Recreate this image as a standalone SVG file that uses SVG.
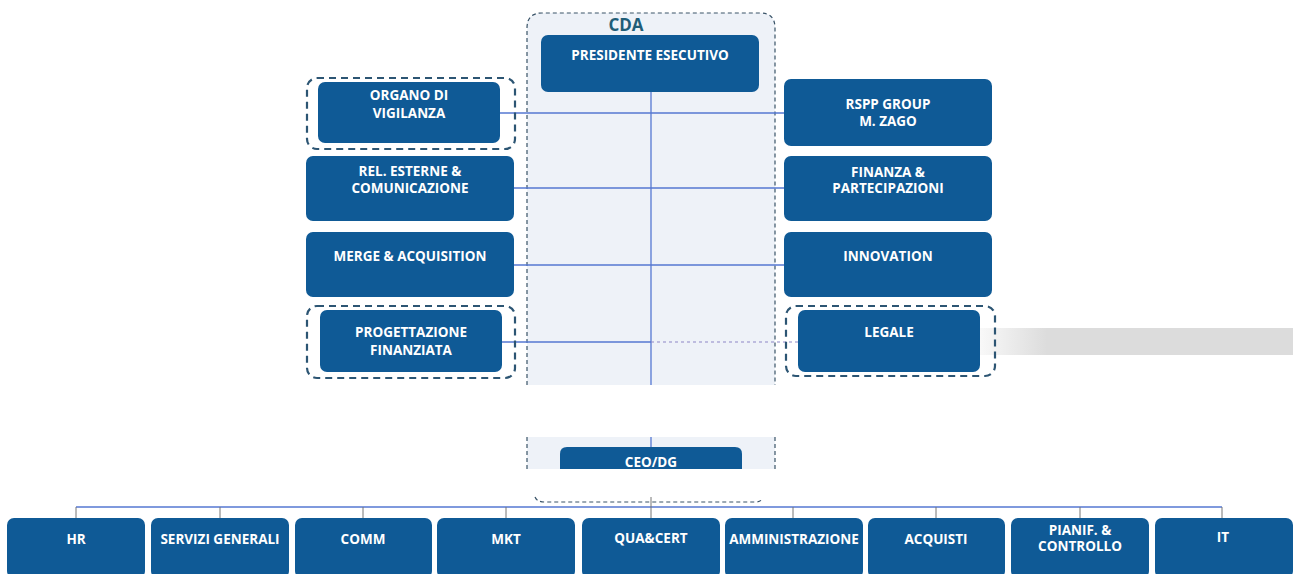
<svg xmlns="http://www.w3.org/2000/svg" width="1293" height="574" viewBox="0 0 1293 574">
<defs>
<linearGradient id="gbar" x1="0" y1="0" x2="1" y2="0">
<stop offset="0" stop-color="#dcdcdc" stop-opacity="0"/>
<stop offset="0.25" stop-color="#dcdcdc" stop-opacity="1"/>
<stop offset="1" stop-color="#dcdcdc"/>
</linearGradient>
</defs>
<style>
.box{fill:#0f5a96;}
.t{font-family:"Open Sans","Liberation Sans",sans-serif;font-weight:700;font-size:13.5px;fill:#ffffff;text-anchor:middle;}
.dash{fill:none;stroke:#2c5573;stroke-width:2.2;stroke-dasharray:7 5;}
.cdash{fill:none;stroke:#3a5468;stroke-width:1.2;stroke-dasharray:4 3;}
.ln{stroke:#5577d2;stroke-width:1.3;fill:none;}
.tick{stroke:#777;stroke-width:1;}
</style>
<rect width="1293" height="574" fill="#ffffff"/>
<g id="cda">
<rect x="527" y="20" width="248" height="365" fill="#eef2f8"/>
<path d="M542,13 H760 Q775,13 775,28 V385 H527 V28 Q527,13 542,13 Z" fill="#eef2f8"/>
<path class="cdash" d="M527,385 V28 Q527,13 542,13 H760 Q775,13 775,28 V385"/>
<rect x="527" y="437" width="248" height="32" fill="#eef2f8"/>
<line class="cdash" x1="527" y1="437" x2="527" y2="469"/>
<line class="cdash" x1="775" y1="437" x2="775" y2="469"/>
<path class="cdash" d="M535,497 Q537,502 545,502 H755 Q761,502 763,498"/>
<text x="626" y="31" font-family="Open Sans,Liberation Sans,sans-serif" font-weight="700" font-size="17" fill="#1f5d78" text-anchor="middle">CDA</text>
</g>
<rect x="965" y="328" width="328" height="27" fill="url(#gbar)"/>
<g id="connectors">
<line class="ln" x1="651" y1="92" x2="651" y2="385"/>
<line class="ln" x1="651" y1="437" x2="651" y2="447"/>
<line class="ln" x1="500" y1="113" x2="784" y2="113"/>
<line class="ln" x1="514" y1="188" x2="784" y2="188"/>
<line class="ln" x1="514" y1="265" x2="784" y2="265"/>
<line class="ln" x1="502" y1="342" x2="651" y2="342"/>
<line x1="651" y1="342" x2="798" y2="342" stroke="#8d86c6" stroke-width="1" stroke-dasharray="3 3"/>
<line class="ln" x1="76" y1="507" x2="1222" y2="507" stroke-width="2"/>
<line class="tick" x1="76" y1="507" x2="76" y2="518"/>
<line class="tick" x1="220" y1="507" x2="220" y2="518"/>
<line class="tick" x1="363" y1="507" x2="363" y2="518"/>
<line class="tick" x1="506" y1="507" x2="506" y2="518"/>
<line class="tick" x1="651" y1="497" x2="651" y2="518"/>
<line class="tick" x1="793" y1="507" x2="793" y2="518"/>
<line class="tick" x1="936" y1="507" x2="936" y2="518"/>
<line class="tick" x1="1080" y1="507" x2="1080" y2="518"/>
<line class="tick" x1="1222" y1="507" x2="1222" y2="518"/>
</g>
<g id="presidente">
<rect class="box" x="541" y="35" width="218" height="57" rx="7"/>
<text class="t" x="650" y="60">PRESIDENTE ESECUTIVO</text>
</g>
<g id="organo">
<rect class="dash" x="307" y="78" width="208" height="71" rx="10"/>
<rect class="box" x="318" y="82" width="182" height="61" rx="7"/>
<text class="t" x="409" y="100">ORGANO DI</text>
<text class="t" x="409" y="118">VIGILANZA</text>
</g>
<g id="relesterne">
<rect class="box" x="306" y="156" width="208" height="65" rx="7"/>
<text class="t" x="410" y="176">REL. ESTERNE &amp;</text>
<text class="t" x="410" y="193">COMUNICAZIONE</text>
</g>
<g id="merge">
<rect class="box" x="306" y="232" width="208" height="65" rx="7"/>
<text class="t" x="410" y="261">MERGE &amp; ACQUISITION</text>
</g>
<g id="progettazione">
<rect class="dash" x="307" y="306" width="208" height="72" rx="10"/>
<rect class="box" x="320" y="310" width="182" height="62" rx="7"/>
<text class="t" x="411" y="337">PROGETTAZIONE</text>
<text class="t" x="411" y="355">FINANZIATA</text>
</g>
<g id="rspp">
<rect class="box" x="784" y="79" width="208" height="67" rx="7"/>
<text class="t" x="888" y="109">RSPP GROUP</text>
<text class="t" x="888" y="126">M. ZAGO</text>
</g>
<g id="finanza">
<rect class="box" x="784" y="156" width="208" height="65" rx="7"/>
<text class="t" x="888" y="177">FINANZA &amp;</text>
<text class="t" x="888" y="193">PARTECIPAZIONI</text>
</g>
<g id="innovation">
<rect class="box" x="784" y="232" width="208" height="65" rx="7"/>
<text class="t" x="888" y="261">INNOVATION</text>
</g>
<g id="legale">
<rect class="dash" x="786" y="306" width="209" height="70" rx="10"/>
<rect class="box" x="798" y="310" width="182" height="62" rx="7"/>
<text class="t" x="889" y="337">LEGALE</text>
</g>
<g id="ceo">
<path class="box" d="M567,447 H735 Q742,447 742,454 V469 H560 V454 Q560,447 567,447 Z"/>
<text class="t" x="651" y="467">CEO/DG</text>
</g>
<g id="hr"><rect class="box" x="7" y="518" width="138" height="60" rx="7"/><text class="t" x="76" y="544">HR</text></g>
<g id="servizi"><rect class="box" x="151" y="518" width="138" height="60" rx="7"/><text class="t" x="220" y="544">SERVIZI GENERALI</text></g>
<g id="comm"><rect class="box" x="295" y="518" width="137" height="60" rx="7"/><text class="t" x="363" y="544">COMM</text></g>
<g id="mkt"><rect class="box" x="437" y="518" width="138" height="60" rx="7"/><text class="t" x="506" y="544">MKT</text></g>
<g id="quacert"><rect class="box" x="582" y="518" width="138" height="60" rx="7"/><text class="t" x="651" y="543">QUA&amp;CERT</text></g>
<g id="amministrazione"><rect class="box" x="725" y="518" width="138" height="60" rx="7"/><text class="t" x="794" y="544" font-size="12.5">AMMINISTRAZIONE</text></g>
<g id="acquisti"><rect class="box" x="868" y="518" width="137" height="60" rx="7"/><text class="t" x="936" y="544">ACQUISTI</text></g>
<g id="pianif"><rect class="box" x="1011" y="518" width="138" height="60" rx="7"/><text class="t" x="1080" y="535">PIANIF. &amp;</text><text class="t" x="1080" y="551">CONTROLLO</text></g>
<g id="it"><rect class="box" x="1155" y="518" width="138" height="60" rx="7"/><text class="t" x="1223" y="542">IT</text></g>
</svg>
